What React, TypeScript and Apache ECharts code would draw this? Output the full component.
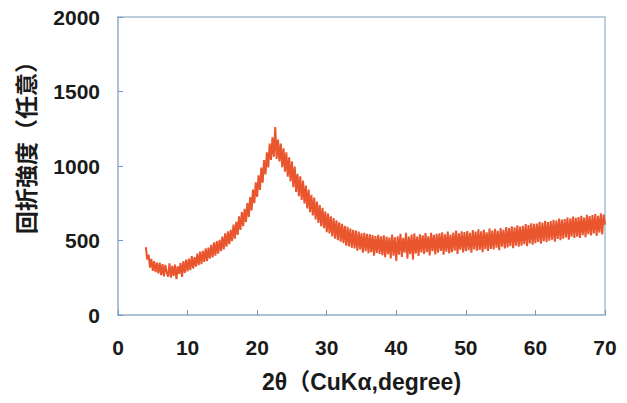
import React, { useEffect, useRef } from "react";
import * as echarts from "echarts";

const xStart = 4.0;
const xStep = 0.2;

// Intensity readings from 4.0° to 70.0° every 0.2°
const intensity: number[] = [
  455, 372, 405, 318, 376, 296, 362, 288, 351, 279,
  352, 268, 341, 259, 336, 284, 258, 347, 251, 329,
  262, 338, 241, 326, 276, 349, 255, 362, 282, 371,
  292, 378, 301, 396, 312, 388, 325, 412, 334, 426,
  342, 431, 356, 448, 361, 452, 379, 470, 386, 488,
  398, 496, 412, 505, 428, 526, 441, 548, 459, 562,
  476, 572, 495, 606, 512, 626, 538, 662, 571, 690,
  596, 712, 624, 752, 658, 792, 702, 842, 751, 890,
  792, 938, 840, 990, 888, 1040, 944, 1092, 990, 1150,
  1040, 1192, 1062, 1262, 1048, 1178, 1030, 1150, 992, 1118,
  962, 1092, 928, 1058, 896, 1032, 858, 996, 826, 948,
  798, 930, 772, 902, 748, 868, 716, 842, 690, 806,
  668, 788, 642, 762, 618, 738, 596, 720, 582, 694,
  556, 680, 548, 662, 528, 650, 512, 636, 502, 622,
  492, 612, 482, 598, 466, 592, 460, 580, 451, 572,
  446, 566, 432, 560, 440, 548, 418, 552, 428, 545,
  415, 542, 422, 536, 398, 530, 416, 538, 410, 528,
  402, 534, 388, 526, 408, 520, 380, 540, 398, 522,
  362, 528, 405, 545, 390, 518, 418, 552, 378, 526,
  408, 540, 372, 548, 414, 526, 396, 542, 420, 535,
  410, 550, 422, 528, 400, 552, 428, 538, 406, 545,
  418, 548, 430, 555, 405, 542, 425, 560, 414, 540,
  422, 554, 432, 566, 410, 548, 438, 562, 420, 556,
  428, 564, 435, 552, 418, 570, 440, 560, 432, 575,
  436, 562, 422, 572, 442, 555, 430, 580, 444, 566,
  440, 578, 452, 565, 435, 584, 458, 572, 446, 590,
  454, 584, 462, 596, 448, 588, 466, 602, 458, 594,
  465, 598, 476, 610, 462, 604, 480, 616, 472, 612,
  482, 614, 490, 626, 478, 620, 496, 632, 488, 624,
  498, 630, 506, 638, 492, 634, 510, 648, 502, 640,
  512, 644, 520, 654, 506, 648, 526, 660, 518, 652,
  526, 658, 518, 666, 536, 654, 522, 672, 542, 664,
  534, 670, 548, 678, 530, 666, 552, 682, 540, 674,
  606,
];

const xAxisName = "2θ（CuKα,degree)";
const yAxisName = "回折強度（任意）";

export default function App() {
  const ref = useRef<HTMLDivElement>(null);
  useEffect(() => {
    if (!ref.current) return;
    const chart = echarts.init(ref.current, undefined, { renderer: "svg" });
    const data = intensity.map((v, i) => [+(xStart + i * xStep).toFixed(1), v]);
    const font = "'Liberation Sans', 'Noto Sans CJK JP', sans-serif";
    const axisColor = "#a9bdd0";
    const tickColor = "#6d9acb";
    chart.setOption({
      animation: false,
      backgroundColor: "#ffffff",
      grid: {
        left: 118,
        right: 22,
        top: 17,
        bottom: 88,
        show: true,
        borderColor: axisColor,
        borderWidth: 1.5,
        backgroundColor: "transparent",
      },
      graphic: [
        {
          type: "text",
          x: 25,
          y: 142,
          rotation: Math.PI / 2,
          style: {
            text: yAxisName,
            font: "bold 23px 'Noto Sans CJK JP', sans-serif",
            fill: "#1a1a1a",
            textAlign: "center",
            textVerticalAlign: "middle",
          },
        },
      ],
      xAxis: {
        type: "value",
        min: 0,
        max: 70,
        interval: 10,
        name: xAxisName,
        nameLocation: "middle",
        nameGap: 55,
        nameTextStyle: { fontFamily: font, fontSize: 23, fontWeight: "bold", color: "#1a1a1a" },
        axisLine: { show: true, lineStyle: { color: axisColor, width: 1.5 } },
        axisTick: { show: true, inside: true, length: 5, lineStyle: { color: tickColor } },
        axisLabel: { margin: 22, fontFamily: font, fontSize: 21, fontWeight: "bold", color: "#1a1a1a" },
        splitLine: { show: false },
      },
      yAxis: {
        type: "value",
        min: 0,
        max: 2000,
        interval: 500,
        axisLine: { show: true, lineStyle: { color: axisColor, width: 1.5 } },
        axisTick: { show: true, inside: true, length: 5, lineStyle: { color: tickColor } },
        axisLabel: {
          margin: 18,
          fontFamily: font,
          fontSize: 21,
          fontWeight: "bold",
          color: "#1a1a1a",
          formatter: (v: number) => String(v),
        },
        splitLine: { show: false },
      },
      series: [
        {
          type: "line",
          data,
          showSymbol: false,
          symbol: "none",
          lineStyle: { color: "#e9552d", width: 2 },
        },
      ],
    });
    return () => chart.dispose();
  }, []);
  return <div ref={ref} style={{ width: 627, height: 403, marginLeft: -8, marginTop: -8 }} />;
}
